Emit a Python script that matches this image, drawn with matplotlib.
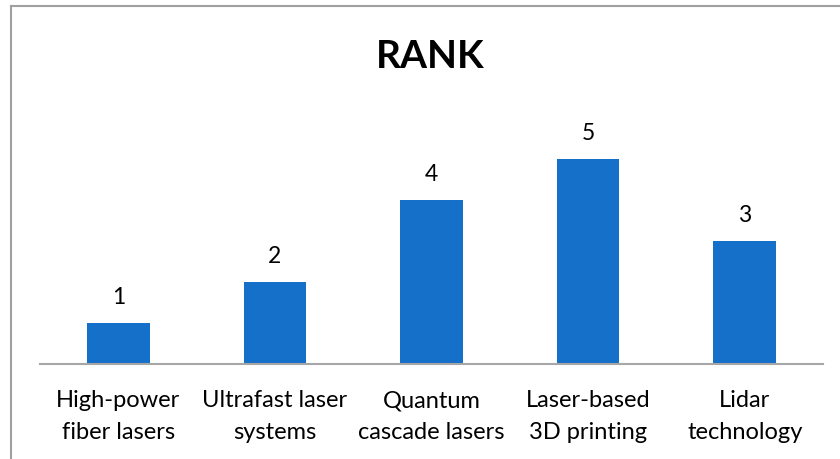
import matplotlib
matplotlib.use("Agg")
import matplotlib.pyplot as plt
from matplotlib.lines import Line2D

categories = ["High-power\nfiber lasers", "Ultrafast laser\nsystems", "Quantum\ncascade lasers",
              "Laser-based\n3D printing", "Lidar\ntechnology"]
ranks = [1, 2, 4, 5, 3]

plt.rcParams['font.family'] = ['Lato', 'DejaVu Sans']

fig = plt.figure(figsize=(8.4, 4.59), dpi=100)
W, H = 840, 459
# plot area in pixels: x 40..823, y baseline 364, top ~118
ax = fig.add_axes([40 / W, 1 - 364 / H, 783 / W, 246 / H])

x = range(len(categories))
bars = ax.bar(x, ranks, width=0.4, color="#1570C9")
for b, v in zip(bars, ranks):
    ax.text(b.get_x() + b.get_width() / 2, v + 0.63, str(v), ha="center", va="center",
            fontsize=16.5, color="#000000")

ax.set_xlim(-0.5, len(categories) - 0.5)
ax.set_ylim(0, 6)
ax.set_yticks([])
ax.set_xticks(list(x))
ax.set_xticklabels(categories, fontsize=17, linespacing=1.6)
ax.tick_params(axis="x", length=0, pad=19)
for s in ["top", "right", "left"]:
    ax.spines[s].set_visible(False)
ax.spines["bottom"].set_color("#A6A6A6")
ax.spines["bottom"].set_linewidth(1.5)

fig.text(430 / W, 1 - 56 / H, "RANK", ha="center", va="center", fontsize=28,
         fontweight="bold", color="#000000")

# outer chart frame (cropped: only top and left visible)
fig.add_artist(Line2D([11 / W, 11 / W], [0, 1 - 6 / H], color="#A0A0A0", lw=1.5,
                      transform=fig.transFigure))
fig.add_artist(Line2D([11 / W, 1], [1 - 6 / H, 1 - 6 / H], color="#A0A0A0", lw=1.5,
                      transform=fig.transFigure))

fig.savefig("out.png", dpi=100)
